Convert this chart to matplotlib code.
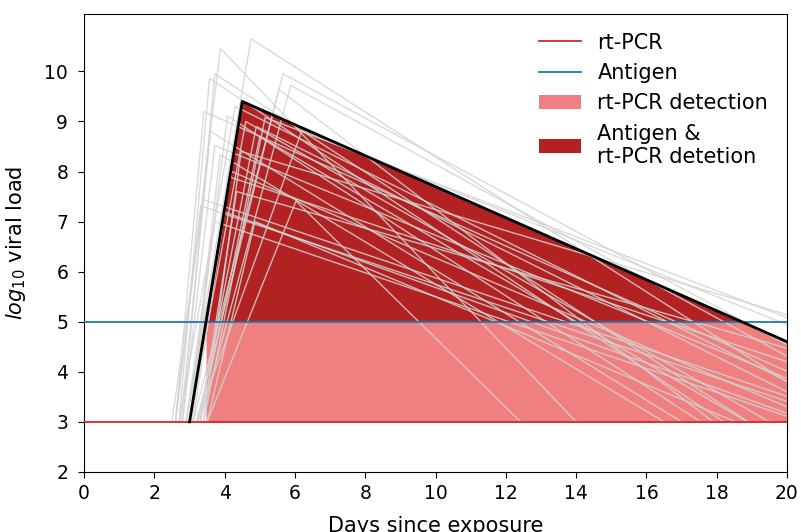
import matplotlib
matplotlib.use('Agg')
import matplotlib.pyplot as plt
import numpy as np

# detection thresholds (log10 viral load)
pcr_limit = 3.0
antigen_limit = 5.0

# representative trajectory: onset, peak, end of window
main_t = [3.0, 4.5, 20.0]
main_v = [3.0, 9.4, 4.6]

# individual trajectories: start day (load 3), peak day/load, last point (day, load)
traj_start = [2.9, 2.6, 2.7, 2.8, 3.1, 3.3, 3.2, 2.6, 3.0, 2.8, 3.0, 3.4,
              2.5, 2.6, 3.5, 3.1, 2.9, 3.5, 3.3, 3.4, 3.2, 2.7, 3.0, 3.3,
              2.9, 3.25, 2.75, 3.05]
traj_peak_t = [4.75, 3.88, 3.57, 3.72, 5.66, 5.88, 5.54, 3.41, 4.08, 3.72, 3.87, 4.47,
               3.39, 3.32, 6.03, 4.0, 3.72, 4.86, 4.34, 5.15, 6.2, 4.3, 4.6, 5.0,
               4.2, 4.9, 3.6, 4.1]
traj_peak_v = [10.65, 10.46, 9.86, 9.95, 9.95, 9.72, 9.64, 9.2, 9.11, 8.52, 8.34, 8.4,
               7.44, 7.31, 7.41, 7.19, 7.0, 7.0, 7.6, 9.08, 8.82, 9.3, 9.0, 8.7,
               8.0, 8.9, 8.8, 7.9]
traj_end_t = [20.0, 14.0, 18.2, 18.9, 20.0, 20.0, 17.9, 20.0, 17.55, 20.0, 16.5, 20.0,
              20.0, 20.0, 12.42, 20.0, 20.0, 18.54, 20.0, 20.0, 20.0, 20.0, 19.5, 18.87,
              20.0, 20.0, 17.0, 20.0]
traj_end_v = [3.8, 3.0, 3.0, 3.0, 4.54, 4.31, 3.0, 4.01, 3.0, 3.87, 3.0, 5.14,
              3.51, 3.41, 3.0, 3.17, 3.11, 3.0, 4.47, 5.08, 4.94, 3.81, 3.0, 3.0,
              3.3, 3.6, 3.0, 4.2]

fig, ax = plt.subplots(figsize=(8.01, 5.32), dpi=100)
fig.subplots_adjust(left=0.105, right=0.9825, bottom=0.113, top=0.974)

# fills from the representative trajectory
tt = np.linspace(0, 20, 4001)
vv = np.nan_to_num(np.interp(tt, main_t, main_v, left=np.nan, right=np.nan), nan=0)
above_ag = vv >= antigen_limit
t_cross = tt[above_ag][0]
ax.fill_between(tt, pcr_limit, np.minimum(vv, antigen_limit), where=tt >= t_cross,
                color='lightcoral', lw=0, label='rt-PCR detection')
ax.fill_between(tt, antigen_limit, vv, where=above_ag,
                color='firebrick', lw=0, label='Antigen &\nrt-PCR detetion')

# individual trajectories
for t0, tp, vp, te, ve in zip(traj_start, traj_peak_t, traj_peak_v, traj_end_t, traj_end_v):
    ax.plot([t0, tp, te], [pcr_limit, vp, ve], color='lightgray',
            lw=1, alpha=0.85, zorder=3)

ax.axhline(pcr_limit, color='tab:red', lw=1.3, zorder=4, label='rt-PCR')
ax.axhline(antigen_limit, color='tab:blue', lw=1.3, zorder=4, label='Antigen')
ax.plot(main_t, main_v, color='black', lw=2, zorder=5)

ax.set_xlim(0, 20)
ax.set_ylim(2, 11.15)
ax.set_xticks(np.arange(0, 21, 2))
ax.set_yticks(np.arange(2, 11, 1))
ax.tick_params(labelsize=13.5, length=4.5)
ax.tick_params(axis='x', pad=4.5)
ax.tick_params(axis='y', pad=7)
ax.set_xlabel('Days since exposure', fontsize=15, labelpad=9)
ax.set_ylabel('$log_{10}$ viral load', fontsize=15, labelpad=12)

handles, labels = ax.get_legend_handles_labels()
order = [2, 3, 0, 1]
ax.legend([handles[i] for i in order], [labels[i] for i in order],
          loc='upper right', frameon=False, fontsize=15)

fig.savefig('out.png', dpi=100)
